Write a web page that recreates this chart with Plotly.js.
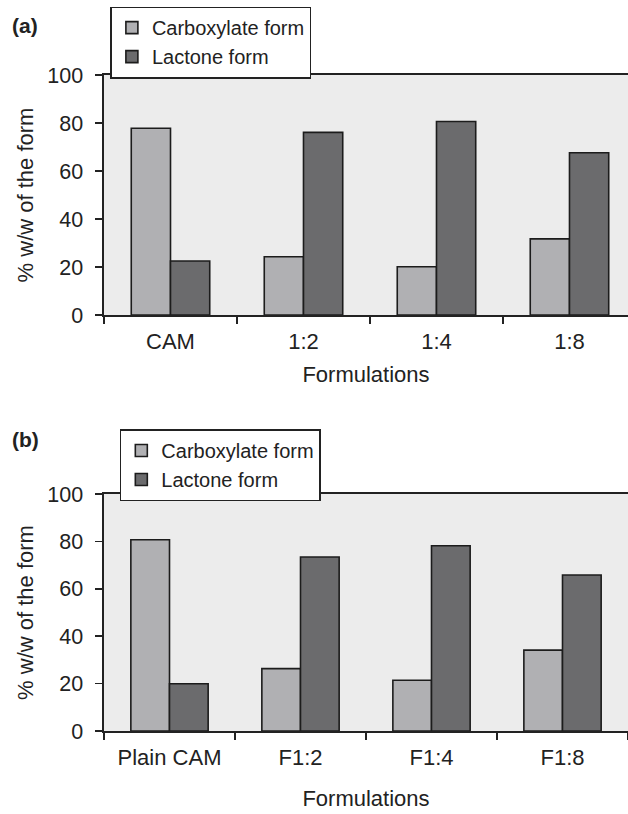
<!DOCTYPE html>
<html>
<head>
<meta charset="utf-8">
<script src="https://cdn.plot.ly/plotly-3.0.1.min.js"></script>
<style>html,body{margin:0;padding:0;background:#fff;}</style>
</head>
<body>
<div id="chart" style="width:628px;height:814px;"></div>
<script>
// Panel (a)
const categoriesA = ["CAM", "1:2", "1:4", "1:8"];
const carboxylateA = [77.8, 24.3, 20.1, 31.7];
const lactoneA = [22.5, 76.1, 80.6, 67.6];
// Panel (b)
const categoriesB = ["Plain CAM", "F1:2", "F1:4", "F1:8"];
const carboxylateB = [80.7, 26.3, 21.4, 34.1];
const lactoneB = [19.9, 73.4, 78.2, 65.8];
const seriesNames = ["Carboxylate form", "Lactone form"];
const yTicks = [0, 20, 40, 60, 80, 100];

const FONT = "Liberation Sans, Arial, Helvetica, sans-serif";
const TXT = "#222222";
const carbColor = "#b0b0b3";
const lacColor = "#6b6b6d";
const edge = {color: "#1c1c1c", width: 1.6};

const traces = [
  {type: "bar", x: categoriesA, y: carboxylateA, name: seriesNames[0], xaxis: "x", yaxis: "y",
   marker: {color: carbColor, line: edge}, legend: "legend"},
  {type: "bar", x: categoriesA, y: lactoneA, name: seriesNames[1], xaxis: "x", yaxis: "y",
   marker: {color: lacColor, line: edge}, legend: "legend"},
  {type: "bar", x: categoriesB, y: carboxylateB, name: seriesNames[0], xaxis: "x2", yaxis: "y2",
   marker: {color: carbColor, line: edge}, legend: "legend2"},
  {type: "bar", x: categoriesB, y: lactoneB, name: seriesNames[1], xaxis: "x2", yaxis: "y2",
   marker: {color: lacColor, line: edge}, legend: "legend2"}
];

function xax(anchor, range, standoff) {
  return {
    anchor: anchor, domain: [0, 1], range: range, type: "category",
    showline: true, linecolor: TXT, linewidth: 1.6, mirror: true,
    ticks: "outside", tickson: "boundaries", ticklen: 7, tickwidth: 1.6, tickcolor: TXT,
    ticklabelstandoff: 6,
    showgrid: false, zeroline: false,
    tickfont: {family: FONT, size: 22, color: TXT},
    title: {text: "Formulations", font: {family: FONT, size: 22, color: TXT}, standoff: standoff}
  };
}
function yax(anchor, domain) {
  return {
    anchor: anchor, domain: domain, range: [0, 100], tickvals: yTicks,
    showline: true, linecolor: TXT, linewidth: 1.6,
    ticks: "outside", ticklen: 7, tickwidth: 1.6, tickcolor: TXT,
    ticklabelstandoff: 8,
    showgrid: false, zeroline: false,
    tickfont: {family: FONT, size: 21.5, color: TXT},
    title: {text: "% w/w of the form", font: {family: FONT, size: 22, color: TXT}, standoff: 7}
  };
}

const legendStyle = {
  bgcolor: "#ffffff", bordercolor: TXT, borderwidth: 1.6,
  font: {family: FONT, size: 20, color: TXT},
  xanchor: "left", yanchor: "top", tracegroupgap: 0, itemwidth: 30
};

const layout = {
  width: 628, height: 814,
  margin: {l: 104, r: 0, t: 0, b: 0},
  paper_bgcolor: "#ffffff", plot_bgcolor: "#ececec",
  barmode: "group", bargap: 0.41, bargroupgap: 0,
  showlegend: true,
  xaxis: xax("y", [-0.5, 3.44], 13),
  yaxis: yax("x", [0.6130, 0.9079]),
  xaxis2: xax("y2", [-0.5, 3.5], 21),
  yaxis2: yax("x2", [0.1020, 0.3931]),
  legend: Object.assign({x: 0.012, y: 0.992}, legendStyle),
  legend2: Object.assign({x: 0.030, y: 0.4725}, legendStyle),
  annotations: [
    {text: "<b>(a)</b>", xref: "paper", yref: "paper", x: -0.180, y: 0.969, xanchor: "left", yanchor: "middle",
     showarrow: false, font: {family: FONT, size: 21, color: TXT}},
    {text: "<b>(b)</b>", xref: "paper", yref: "paper", x: -0.180, y: 0.4595, xanchor: "left", yanchor: "middle",
     showarrow: false, font: {family: FONT, size: 21, color: TXT}}
  ]
};

Plotly.newPlot("chart", traces, layout, {displayModeBar: false, staticPlot: true});
</script>
</body>
</html>
